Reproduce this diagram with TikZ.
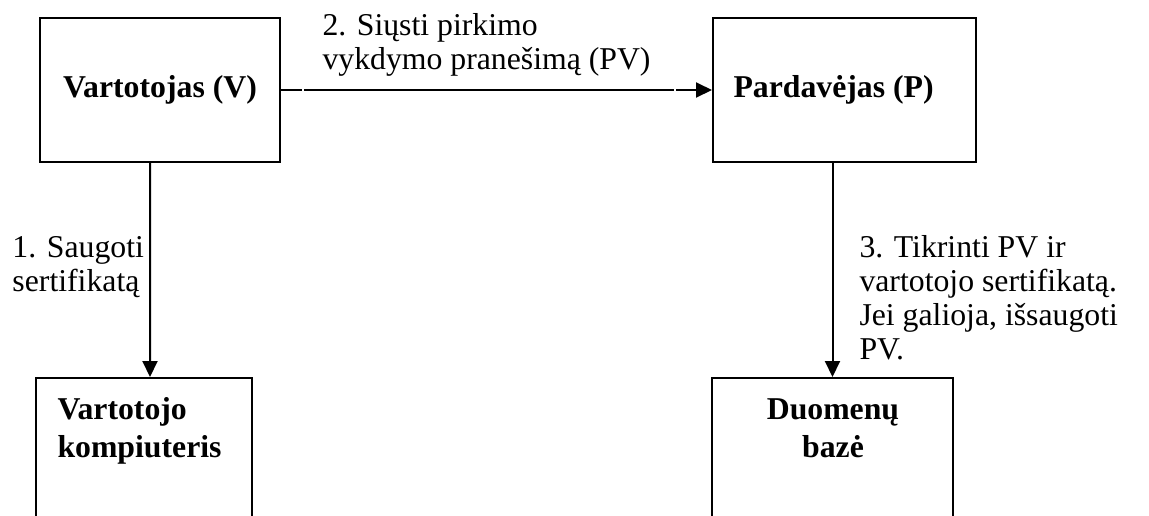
\documentclass[tikz,border=0pt]{standalone}
\usepackage{fontspec}
\setmainfont{Liberation Serif}
\usetikzlibrary{arrows.meta}
\begin{document}
\begin{tikzpicture}[x=0.4pt,y=-0.4pt,
  box/.style={draw,line width=0.8pt,inner sep=0pt},
  lbl/.style={font=\fontsize{12.7}{13.6}\selectfont,inner sep=0pt,anchor=base west},
  ttl/.style={font=\fontsize{12.7}{15}\selectfont\bfseries,inner sep=0pt},
  arr/.style={line width=0.8pt,-{Triangle[length=6.4pt,width=6pt]}}]
  \path[use as bounding box] (0,0) rectangle (1149,515);
  \clip (0,0) rectangle (1149,515);

  % boxes (the lower two run past the bottom edge)
  \node[box,minimum width=96pt,minimum height=57.6pt] (V) at (160,90) {};
  \node[box,minimum width=105.2pt,minimum height=57.6pt] (P) at (844.5,90) {};
  \node[box,minimum width=86.4pt,minimum height=64pt] (K) at (144,458) {};
  \node[box,minimum width=96.4pt,minimum height=64pt] (D) at (832.5,458) {};

  % box titles
  \node[ttl,anchor=base] (Vt) at (160,97) {Vartotojas (V)};
  \node[ttl,anchor=base west] (Pt) at (733,97) {Pardavėjas (P)};
  \node[ttl,anchor=base west] (Kt1) at (57,419) {Vartotojo};
  \node[ttl,anchor=base west] (Kt2) at (57,457) {kompiuteris};
  \node[ttl,anchor=base] (Dt1) at (833,419) {Duomenų};
  \node[ttl,anchor=base] (Dt2) at (833,457) {bazė};

  % connectors
  \draw[arr] ([xshift=-4pt]V.south) -- ([xshift=2.4pt]K.north);
  \draw[arr,dash pattern=on 8.4pt off 0.8pt on 148pt off 0.8pt on 40pt] (V.east) -- (P.west);
  \draw[arr] (P.south -| D.north) -- (D.north);

  % step labels
  \node[lbl] (l2a) at (322,35) {2. Siųsti pirkimo};
  \node[lbl] (l2b) at (322,69) {vykdymo pranešimą (PV)};
  \node[lbl] (l1a) at (12,257) {1. Saugoti};
  \node[lbl] (l1b) at (12,291) {sertifikatą};
  \node[lbl] (l3a) at (859,257) {3. Tikrinti PV ir};
  \node[lbl] (l3b) at (859,291) {vartotojo sertifikatą.};
  \node[lbl] (l3c) at (859,325) {Jei galioja, išsaugoti};
  \node[lbl] (l3d) at (859,359) {PV.};
\end{tikzpicture}
\end{document}
